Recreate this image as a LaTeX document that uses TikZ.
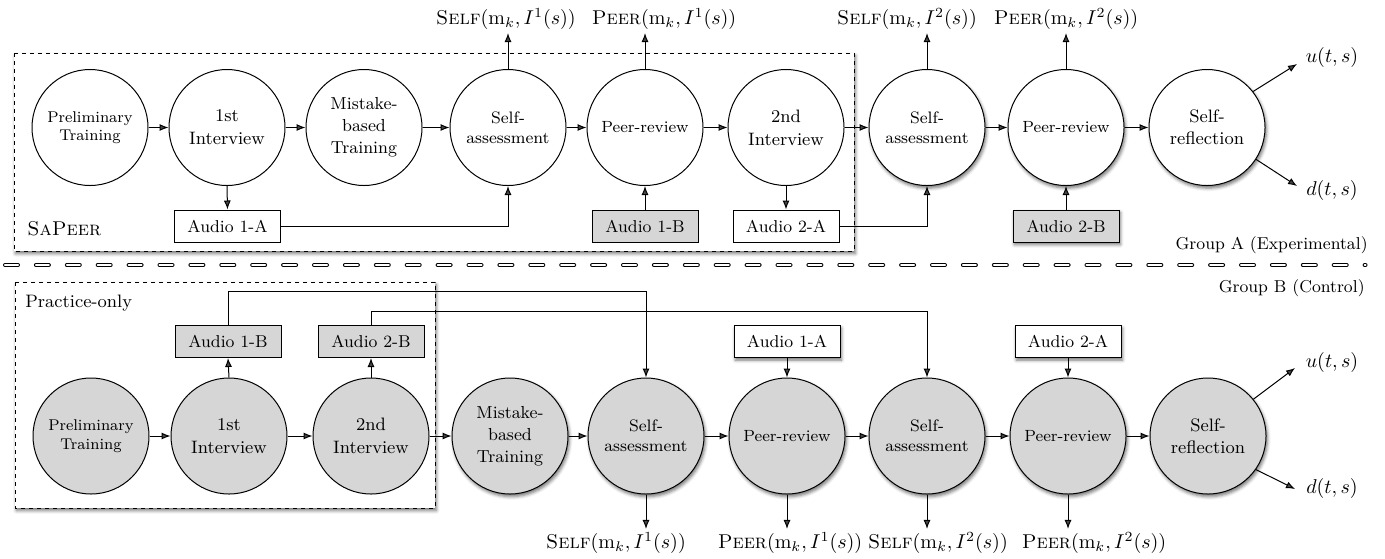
\documentclass[tikz,border=0pt]{standalone}
\usetikzlibrary{arrows.meta,shadows.blur}
\begin{document}
\begin{tikzpicture}[x=0.5pt,y=-0.5pt,
  arr/.style={-{Latex[length=4.5pt,width=3.5pt]},line width=0.5pt},
  stage/.style={circle,draw,line width=0.5pt,minimum size=58pt,inner sep=0pt,align=center,fill=white},
  gstage/.style={stage,fill=black!16},
  sh/.style={blur shadow={shadow xshift=0.7pt,shadow yshift=-1.3pt,shadow blur radius=1.6pt,shadow opacity=55}},
  audio/.style={rectangle,draw,line width=0.5pt,minimum width=53pt,minimum height=16pt,inner sep=0pt,fill=white,font=\fontsize{8.6}{10}\selectfont},
  gaudio/.style={audio,fill=black!16},
  fprel/.style={font=\fontsize{7.8}{9.3}\selectfont},
  fint/.style={font=\fontsize{9}{11.5}\selectfont},
  fmis/.style={font=\fontsize{8.7}{11}\selectfont},
  fself/.style={font=\fontsize{8.3}{10}\selectfont},
  fpeer/.style={font=\fontsize{8.1}{10}\selectfont},
  frefl/.style={font=\fontsize{9}{11}\selectfont},
  lab/.style={inner sep=1.5pt,font=\fontsize{10}{12}\selectfont},
  grp/.style={inner sep=0pt,font=\fontsize{8.6}{10}\selectfont}
]
\useasboundingbox (0,0) rectangle (1385,558);

% containers
\draw[dash pattern=on 2pt off 2pt,line width=0.5pt,fill=white,sh] (14,53) rectangle (854,251);
\draw[dash pattern=on 2pt off 2pt,line width=0.5pt,fill=white,sh] (15,282) rectangle (435,508);

% separator
\draw[double=white,double distance=1.1pt,line width=0.45pt,line cap=round,dash pattern=on 6.5pt off 8.95pt] (5,265) -- (1365.5,265);

\node[grp,anchor=west] (sapeer) at (27,229) {\fontsize{10}{12}\selectfont\textsc{SaPeer}};
\node[grp,anchor=west] (pronly) at (25,303) {\fontsize{9}{11}\selectfont Practice-only};
\node[grp,anchor=east] (grpa) at (1368,245) {Group A (Experimental)};
\node[grp,anchor=east] (grpb) at (1365,288) {Group B (Control)};

% ---------- Group A ----------
\node[stage,fprel] (tp) at (90,127.5) {Preliminary\\Training};
\node[stage,fint] (ti1) at (227,127.5) {1st\\Interview};
\node[stage,fmis] (tm) at (364,127.5) {Mistake-\\based\\Training};
\node[stage,fself] (tsa1) at (508,127.5) {Self-\\assessment};
\node[stage,fpeer] (tpr1) at (645,127.5) {Peer-review};
\node[stage,fint] (ti2) at (786,127.5) {2nd\\Interview};
\node[stage,fself,sh] (tsa2) at (927,127.5) {Self-\\assessment};
\node[stage,fpeer,sh] (tpr2) at (1066,127.5) {Peer-review};
\node[stage,frefl,sh] (tsr) at (1207,127.5) {Self-\\reflection};

\node[audio] (ta1a) at (227.5,226) {Audio 1-A};
\node[gaudio] (ta1b) at (645,226) {Audio 1-B};
\node[audio] (ta2a) at (786,226) {Audio 2-A};
\node[gaudio,sh] (ta2b) at (1066,226) {Audio 2-B};

\node[lab] (tl1) at (506,19) {$\textsc{Self}(\mathrm{m}_k,I^1(s))$};
\node[lab] (tl2) at (664,19) {$\textsc{Peer}(\mathrm{m}_k,I^1(s))$};
\node[lab] (tl3) at (907,19) {$\textsc{Self}(\mathrm{m}_k,I^2(s))$};
\node[lab] (tl4) at (1066,19) {$\textsc{Peer}(\mathrm{m}_k,I^2(s))$};
\node[lab] (tu) at (1332,57) {$u(t,s)$};
\node[lab] (td) at (1332,190) {$d(t,s)$};
\coordinate (tue) at (1297,64);
\coordinate (tde) at (1297,186);

\draw[arr] (tp) -- (ti1);
\draw[arr] (ti1) -- (tm);
\draw[arr] (tm) -- (tsa1);
\draw[arr] (tsa1) -- (tpr1);
\draw[arr] (tpr1) -- (ti2);
\draw[arr] (ti2) -- (tsa2);
\draw[arr] (tsa2) -- (tpr2);
\draw[arr] (tpr2) -- (tsr);

\draw[arr] (ti1.south) -- (ta1a.north);
\draw[arr] (ti2.south) -- (ta2a.north);
\draw[arr] (ta1b.north) -- (tpr1.south);
\draw[arr] (ta2b.north) -- (tpr2.south);
\draw[arr] (ta1a.east) -| (tsa1.south);
\draw[arr] (ta2a.east) -| (tsa2.south);

\draw[arr] (tsa1.north) -- (tsa1.north |- tl1.south);
\draw[arr] (tpr1.north) -- (tpr1.north |- tl2.south);
\draw[arr] (tsa2.north) -- (tsa2.north |- tl3.south);
\draw[arr] (tpr2.north) -- (tpr2.north |- tl4.south);
\draw[arr] (tsr.38) -- (tue);
\draw[arr] (tsr.-33) -- (tde);

% ---------- Group B ----------
\node[gstage,fprel] (bp) at (91,436) {Preliminary\\Training};
\node[gstage,fint] (bi1) at (229,436) {1st\\Interview};
\node[gstage,fint] (bi2) at (371,436) {2nd\\Interview};
\node[gstage,fmis,sh] (bm) at (510,436) {Mistake-\\based\\Training};
\node[gstage,fself,sh] (bsa1) at (646,436) {Self-\\assessment};
\node[gstage,fpeer,sh] (bpr1) at (787,436) {Peer-review};
\node[gstage,fself,sh] (bsa2) at (927,436) {Self-\\assessment};
\node[gstage,fpeer,sh] (bpr2) at (1068,436) {Peer-review};
\node[gstage,frefl,sh] (bsr) at (1208,436) {Self-\\reflection};

\node[gaudio] (ba1b) at (228,341.5) {Audio 1-B};
\node[gaudio] (ba2b) at (371,341.5) {Audio 2-B};
\node[audio,sh] (ba1a) at (787,341.5) {Audio 1-A};
\node[audio,sh] (ba2a) at (1068,341.5) {Audio 2-A};

\node[lab] (bl1) at (616,543) {$\textsc{Self}(\mathrm{m}_k,I^1(s))$};
\node[lab] (bl2) at (790,543) {$\textsc{Peer}(\mathrm{m}_k,I^1(s))$};
\node[lab] (bl3) at (938,543) {$\textsc{Self}(\mathrm{m}_k,I^2(s))$};
\node[lab] (bl4) at (1094,543) {$\textsc{Peer}(\mathrm{m}_k,I^2(s))$};
\node[lab] (bu) at (1332,362) {$u(t,s)$};
\node[lab] (bd) at (1332,488) {$d(t,s)$};
\coordinate (bue) at (1295,368);
\coordinate (bde) at (1295,489);

\draw[arr] (bp) -- (bi1);
\draw[arr] (bi1) -- (bi2);
\draw[arr] (bi2) -- (bm);
\draw[arr] (bm) -- (bsa1);
\draw[arr] (bsa1) -- (bpr1);
\draw[arr] (bpr1) -- (bsa2);
\draw[arr] (bsa2) -- (bpr2);
\draw[arr] (bpr2) -- (bsr);

\draw[arr] (bi1.north) -- (ba1b.south);
\draw[arr] (bi2.north) -- (ba2b.south);
\draw[arr] (ba1a.south) -- (bpr1.north);
\draw[arr] (ba2a.south) -- (bpr2.north);
\draw[arr] (ba1b.north) -- ++(0,-34) -| (bsa1.north);
\draw[arr] (ba2b.north) -- ++(0,-14) -| (bsa2.north);

\draw[arr] (bsa1.south) -- (bsa1.south |- bl1.north);
\draw[arr] (bpr1.south) -- (bpr1.south |- bl2.north);
\draw[arr] (bsa2.south) -- (bsa2.south |- bl3.north);
\draw[arr] (bpr2.south) -- (bpr2.south |- bl4.north);
\draw[arr] (bsr.39) -- (bue);
\draw[arr] (bsr.-35) -- (bde);
\end{tikzpicture}
\end{document}
